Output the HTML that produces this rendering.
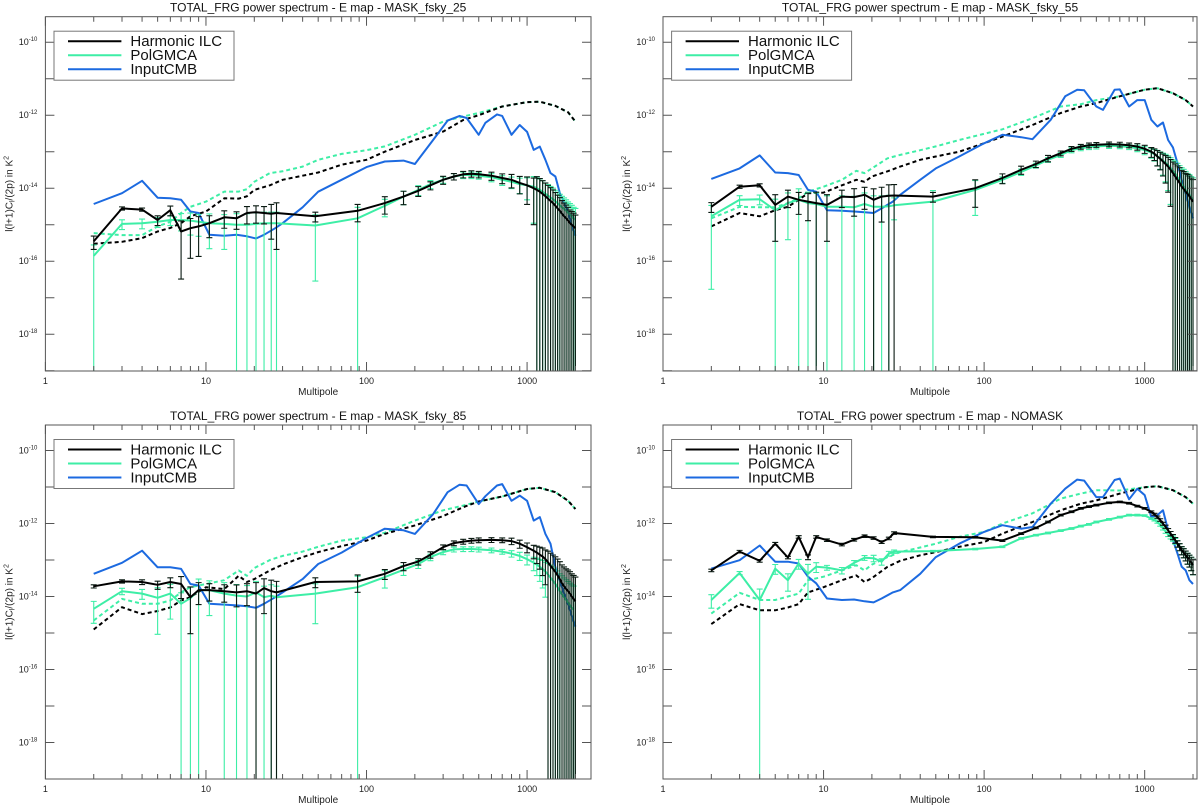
<!DOCTYPE html>
<html><head><meta charset="utf-8"><style>
html,body{margin:0;padding:0;background:#fff;}
svg{display:block;font-family:"Liberation Sans",sans-serif;}
</style></head><body>
<svg id="fig" width="1200" height="807" viewBox="0 0 1200 807" xmlns="http://www.w3.org/2000/svg"></svg>
<script>
const UNIT = 1e-15;
const binEll = [2,3,4,5,6,7,8,9,10.5,13,15.5,18,20.5,23,25.5,27.5,48,88,130,170,210,250,300,350,400,450,500,600,700,800,900,1000,1100,1150,1200,1250,1300,1350,1400,1450,1500,1550,1600,1650,1700,1750,1800,1850,1900,1950,2000];
const theoryEll = [2,3,4,5,6,7,8,10,13,16,18,20,25,30,40,50,70,100,130,200,300,400,500,700,1000,1200,1500,1800,2000];
const cmbEll = [2,3,4,5,6,7,8,9,10.5,13,15.5,18,20.5,23,27,30,40,50,70,100,130,170,200,260,320,380,420,500,550,650,700,800,900,1000,1100,1200,1300,1400,1500,1600,1700,1800,1900,2000];
const yTickExp = [-10,-12,-14,-16,-18];
const xTickVals = [1,10,100,1000];
const legendLabels = ["Harmonic  ILC","PolGMCA","InputCMB"];

// MASK_fsky_25
const tlHilc = [0.35,2.8,2.6,1.35,2.5,0.65,0.8,0.9,1.1,1.6,1.5,2.1,2.2,2.1,2.0,2.1,1.7,2.4,3.9,5.9,8.5,12,17,21,24,25,24,22,19,17,14,12,10,9,8,7,6,5.2,4.5,3.9,3.3,2.8,2.4,2.0,1.7,1.5,1.3,1.1,1.0,0.9,0.8];
const tlHilcErr = [0.4,0.1,0.1,0.3,0.3,0.95,0.85,0.85,0.6,0.5,0.5,0.5,0.5,0.5,0.8,0.9,0.3,0.5,0.5,0.4,0.3,0.25,0.25,0.2,0.2,0.2,0.2,0.25,0.3,0.4,0.5,0.7,0.9,1.3,1.3,1.3,1.3,1.3,1.3,1.3,1.3,1.3,1.3,1.3,1.3,1.3,1.3,1.3,1.3,1.3,1.3];
const tlGmca = [0.14,1.05,1.1,1.2,1.35,1.35,1.3,1.2,1.1,1.05,1.0,1.0,1.05,1.1,1.1,1.1,0.95,1.5,3.3,5.9,9,13,17,21,23,23,22,20,17,15,13,12,11,10,9,8,7,6.3,5.6,5,4.4,3.9,3.4,3,2.7,2.4,2.1,1.9,1.7,1.5,1.4];
const tlGmcaErr = [1.0,0.3,0.3,0.3,0.3,0.5,0.6,0.6,0.8,0.8,1.0,1.0,1.0,1.0,1.0,1.0,0.97,1.0,0.5,0.4,0.3,0.25,0.2,0.2,0.2,0.2,0.2,0.25,0.3,0.35,0.45,0.6,0.9,1,1,1,1,1,1,1,1,1,1,1,1,1,1,1,1,1,1];
const tlTheoryHilc = [0.30,0.34,0.43,0.65,0.82,1.1,1.7,2.3,5.3,5.2,6,9,12,17,22,27,44,60,100,210,355,740,1000,1730,2280,2350,1800,1200,670];
const tlTheoryGmca = [0.59,0.52,0.52,0.9,1.2,2.1,3.1,4.3,8.1,8.1,9.4,15,26,29,39,60,87,110,140,290,670,920,1150,1730,2280,2350,1800,1200,670];
const tlCmb = [3.7,7.3,16,5.5,5.3,4.8,2.3,2.1,0.53,0.5,0.53,0.48,0.42,0.53,0.8,1.1,3.0,8,17,38,54,57,46,210,710,960,840,290,620,1050,960,290,540,350,112,138,60,26,21,7.3,4,2.2,1.0,0.5];

// MASK_fsky_55
const trHilc = [3.1,11,12,3.5,5.9,4.8,4.3,3.9,3.5,5.9,5.7,6.6,4.8,5.9,6.2,6.3,5.9,10,19,32,46,66,91,120,138,150,155,160,158,150,138,120,100,88,74,64,54,46,39,32,26,21,17,14,11,9.5,8,7,6,5,4.3];
const trHilcErr = [0.3,0.1,0.1,0.9,0.5,0.6,0.7,1.0,0.9,0.5,0.7,0.6,1.0,0.8,1.0,1.0,0.3,0.7,0.3,0.25,0.2,0.2,0.15,0.15,0.15,0.15,0.15,0.15,0.15,0.15,0.2,0.25,0.3,0.35,0.45,0.5,0.6,0.7,0.8,0.9,1.0,1.2,1.4,1.6,1.8,2.0,2.2,2.4,2.6,2.8,3.0];
const trGmca = [1.7,4.8,5,2.5,3.9,4.8,3.9,3.7,3.1,3.1,3.0,3.7,3.1,3.1,3.2,3.4,4.3,9,17,28,42,60,82,110,125,135,140,145,142,135,125,110,95,85,75,66,57,50,43,36,30,25,20,16,13,11,9,7.5,6.5,5.5,4.8];
const trGmcaErr = [0.99,0.3,0.3,1.0,0.9,1.0,1.0,1.0,1.0,1.0,1.0,1.0,1.0,1.0,1.0,0.6,1.0,0.8,0.2,0.2,0.15,0.15,0.15,0.15,0.15,0.15,0.15,0.15,0.15,0.15,0.2,0.25,0.3,0.35,0.45,0.5,0.6,0.7,0.8,0.9,1.0,1.2,1.4,1.6,1.8,2.0,2.2,2.4,2.6,2.8,3.0];
const trTheoryHilc = [0.9,2.1,1.7,2.5,3.1,4.8,7.3,7.6,12,17,15,21,29,39,60,74,100,170,260,540,1150,1730,2150,3300,5000,5500,4000,2600,1730];
const trTheoryGmca = [1.5,3.1,3.0,3.0,3.9,5.3,8,11,17,30,26,35,66,82,110,140,210,310,410,830,1730,2000,2600,3300,5000,5500,4000,2600,1730];
const trCmb = [18,35,79,27,26,23,9,8,2.5,2.4,2.3,2.2,2.1,2.8,4.3,6.6,17,35,74,170,290,250,220,750,3300,5000,4800,1730,1400,5000,5100,1730,2600,2600,750,490,630,210,130,48,17,7.3,3,1.5];

// MASK_fsky_85
const blHilc = [19,26,25,21,25,22,9.6,15,15,14,13,14,12,17,14,13,25,26,42,68,91,140,225,290,320,340,350,355,350,330,280,225,180,160,140,125,105,87,70,57,47,38,30,23,19,16,14,12,10,8.6,7.4];
const blHilcErr = [0.1,0.1,0.15,0.25,0.3,0.6,0.9,0.6,0.5,0.5,0.6,0.6,1.0,0.8,1.0,1.0,0.3,0.5,0.3,0.25,0.2,0.2,0.15,0.15,0.15,0.15,0.15,0.15,0.15,0.2,0.25,0.3,0.4,0.5,0.6,0.7,0.8,1.0,1.2,1.4,1.6,1.8,2.0,2.2,2.4,2.6,2.8,3.0,3.2,3.4,3.6];
const blGmca = [4.6,14,12,9.2,12,6.3,9,15,15,12,10.6,10,13,9.6,10.5,9.6,12,18,34,54,78,120,165,195,200,200,195,185,170,150,130,105,85,75,65,57,48,40,33,27,22,18,14,11.5,9.5,8,6.8,5.8,5,4.4];
const blGmcaErr = [0.6,0.2,0.3,0.9,0.8,1.0,1.0,1.0,0.8,1.0,1.0,1.0,1.0,1.0,1.0,1.0,0.85,1.0,0.5,0.3,0.25,0.2,0.15,0.15,0.15,0.15,0.15,0.15,0.15,0.2,0.25,0.3,0.4,0.5,0.6,0.7,0.8,1.0,1.2,1.4,1.6,1.8,2.0,2.2,2.4,2.6,2.8,3.0,3.2,3.4,3.6];
const blTheoryHilc = [1.25,5.1,3.3,4,5,7.8,9.6,18,16,37,25,30,52,75,120,165,240,340,520,890,1600,2800,4000,5500,8800,9500,7200,4200,2500];
const blTheoryGmca = [2.2,8.6,6.3,6.3,7.8,13,18,22,28,52,37,60,100,130,170,230,340,420,560,1200,2300,3100,4000,5500,8800,9500,7200,4200,2500];
const blCmb = [42,84,180,63,63,57,22,20,6.3,6,5.7,5.4,4.9,6.3,9.6,13,30,78,160,400,720,650,520,1800,7200,11600,11000,3400,5600,11000,12000,4200,5800,4200,1200,1500,520,280,63,27,12,6,3,1.5];

// NOMASK
const brHilc = [52,170,95,280,117,430,120,430,350,265,360,450,400,310,390,550,430,420,340,530,760,1100,1700,2100,2600,2900,3200,3700,3900,3600,3000,2600,2100,1800,1500,1250,990,820,650,530,430,350,280,230,185,160,135,115,100,85,72];
const brHilcErr = [0.08,0.08,0.08,0.08,0.08,0.08,0.15,0.08,0.08,0.08,0.08,0.08,0.08,0.08,0.08,0.08,0.05,0.05,0.05,0.05,0.05,0.05,0.05,0.05,0.05,0.05,0.05,0.05,0.05,0.05,0.05,0.05,0.05,0.06,0.07,0.08,0.09,0.1,0.12,0.14,0.16,0.18,0.2,0.22,0.25,0.28,0.3,0.33,0.36,0.4,0.45];
const brGmca = [8,44,8,58,28,80,42,65,62,52,84,115,112,90,150,170,175,200,230,390,480,550,640,730,850,950,1100,1300,1500,1700,1700,1650,1370,1250,1100,920,730,600,500,440,390,330,280,230,185,160,135,115,100,85,72];
const brGmcaErr = [0.4,0.1,1.0,0.3,0.5,0.3,0.8,0.3,0.15,0.2,0.15,0.15,0.2,0.2,0.15,0.1,0.05,0.05,0.05,0.05,0.05,0.05,0.05,0.05,0.05,0.05,0.05,0.05,0.05,0.05,0.05,0.05,0.05,0.06,0.07,0.08,0.09,0.1,0.12,0.14,0.16,0.18,0.2,0.22,0.25,0.28,0.3,0.33,0.36,0.4,0.45];
const brTheoryHilc = [1.75,6.2,4.2,4.2,5,6.2,13,18,28,38,25,32,65,95,135,165,230,310,530,1100,2300,3500,4300,6600,9800,10500,8200,5300,3500];
const brTheoryGmca = [3.4,12.6,8,8,10,12,28,35,52,72,52,75,120,165,220,280,430,590,1000,1900,4800,6600,8200,8000,9800,10500,8200,5300,3500];
const brCmb = [58,99,250,90,90,80,35,23,8.8,8,8.3,7.4,6.9,8.8,13,15,42,120,280,590,900,720,800,3500,9000,16000,15000,5300,5300,15600,17000,4600,9000,6000,1500,1700,2300,650,350,150,65,52,28,22];

const panelTitles = ["TOTAL_FRG power spectrum - E map - MASK_fsky_25","TOTAL_FRG power spectrum - E map - MASK_fsky_55","TOTAL_FRG power spectrum - E map - MASK_fsky_85","TOTAL_FRG power spectrum - E map - NOMASK"];

const NS = "http://www.w3.org/2000/svg";
const svg = document.getElementById('fig');
const GREEN = "#3deea6", BLUE = "#1c6ae0";
function mk(tag, attrs, parent){ const e=document.createElementNS(NS,tag); for(const k in attrs) e.setAttribute(k,attrs[k]); (parent||svg).appendChild(e); return e; }

const panels = [
 {key:'tl', x0:45.4, x1:591, y0:16.7, y1:371, h:tlHilc, he:tlHilcErr, g:tlGmca, ge:tlGmcaErr, th:tlTheoryHilc, tg:tlTheoryGmca, c:tlCmb},
 {key:'tr', x0:663, x1:1197, y0:16.7, y1:371, h:trHilc, he:trHilcErr, g:trGmca, ge:trGmcaErr, th:trTheoryHilc, tg:trTheoryGmca, c:trCmb},
 {key:'bl', x0:45.4, x1:591, y0:425, y1:779, h:blHilc, he:blHilcErr, g:blGmca, ge:blGmcaErr, th:blTheoryHilc, tg:blTheoryGmca, c:blCmb},
 {key:'br', x0:663, x1:1197, y0:425, y1:779, h:brHilc, he:brHilcErr, g:brGmca, ge:brGmcaErr, th:brTheoryHilc, tg:brTheoryGmca, c:brCmb}
];
const XDEC = 160.56, YDEC = 36.5, YTOPLOG = Math.log10(5e-10);

panels.forEach((p, pi) => {
  const grp = mk('g', {});
  
  
  const xs = l => p.x0 + Math.log10(l) * XDEC;
  const ys = v => { const y = p.y0 + (YTOPLOG - Math.log10(v * UNIT)) * YDEC; return Math.min(y, p.y1 + 2); };
  const ysK = v => p.y0 + (YTOPLOG - Math.log10(v)) * YDEC;
  const cx = (p.x0 + p.x1) / 2;

  const title = mk('text', {x: cx, y: p.y0 - 5, 'text-anchor':'middle', 'font-size':12, fill:'#111'}, grp);
  title.textContent = panelTitles[pi];
  
  

  const clipId = 'clip' + pi;
  const cp = mk('clipPath', {id: clipId}, grp);
  mk('rect', {x:p.x0, y:p.y0, width:p.x1-p.x0, height:p.y1-p.y0}, cp);
  const plot = mk('g', {'clip-path':'url(#' + clipId + ')'}, grp);
  
  

  function line(ells, vals, color, dash, name){
    const d = ells.map((l,i)=>(i?'L':'M')+xs(l).toFixed(1)+','+ys(vals[i]).toFixed(1)).join('');
    const e = mk('path', {d:d, fill:'none', stroke:color, 'stroke-width':2, 'stroke-dasharray':dash||'none', 'stroke-linejoin':'round'}, plot);
    
    
  }
  function bars(ells, vals, errs, color, name){
    const g = mk('g', {stroke:color, 'stroke-width':1.1}, plot);
    
    
    ells.forEach((l,i)=>{
      const x = xs(l), v = vals[i], f = errs[i];
      const yHi = ys(v*(1+f));
      const yLo = f >= 1 ? p.y1 + 2 : ys(v*(1-f));
      const b = mk('path', {d:`M${x},${yLo}L${x},${yHi}M${x-3},${yHi}L${x+3},${yHi}` + (f<1?`M${x-3},${yLo}L${x+3},${yLo}`:'')}, g);
      
      
    });
  }
  line(theoryEll, p.tg, GREEN, '4,3', 'polgmca-theory-dashed');
  line(theoryEll, p.th, '#000', '4,3', 'hilc-theory-dashed');
  line(cmbEll, p.c, BLUE, null, 'inputcmb-line');
  bars(binEll, p.g, p.ge, GREEN, 'polgmca-error-bars');
  line(binEll, p.g, GREEN, null, 'polgmca-line');
  bars(binEll, p.h, p.he, '#0a1a12', 'hilc-error-bars');
  line(binEll, p.h, '#000', null, 'hilc-line');

  const frame = mk('rect', {x:p.x0, y:p.y0, width:p.x1-p.x0, height:p.y1-p.y0, fill:'none', stroke:'#555', 'stroke-width':1}, grp);
  
  

  for (let e=-19; e<=-10; e++){
    const y = ysK(Math.pow(10,e));
    mk('path', {d:`M${p.x0},${y}L${p.x0+9},${y}M${p.x1},${y}L${p.x1-9},${y}`, stroke:'#555', 'stroke-width':1}, grp);
  }
  yTickExp.forEach(e=>{
    const y = ysK(Math.pow(10,e));
    const t = mk('text', {x:p.x0-8, y:y+3, 'text-anchor':'end', 'font-size':9, fill:'#222'}, grp);
    
    
    t.appendChild(document.createTextNode('10'));
    const s = mk('tspan', {dy:-4, 'font-size':6}, t); s.textContent = String(e);
  });
  for (let d=0; d<4; d++){
    for (let m=1; m<10; m++){
      const l = m*Math.pow(10,d); const x = xs(l);
      if (x > p.x1) continue;
      const len = m===1 ? 9 : 5;
      mk('path', {d:`M${x},${p.y1}L${x},${p.y1-len}M${x},${p.y0}L${x},${p.y0+len}`, stroke:'#555', 'stroke-width':1}, grp);
    }
  }
  xTickVals.forEach(l=>{
    const t = mk('text', {x:xs(l), y:p.y1+13, 'text-anchor':'middle', 'font-size':9, fill:'#222'}, grp);
    t.textContent = String(l);
    
    
  });
  const xl = mk('text', {x:cx, y:p.y1+24, 'text-anchor':'middle', 'font-size':10, fill:'#222'}, grp);
  xl.textContent = 'Multipole';
  
  
  const yx = p.x0 - 33, yc = (p.y0+p.y1)/2;
  const yl = mk('text', {x:yx, y:yc, 'text-anchor':'middle', 'font-size':10, fill:'#222', transform:`rotate(-90 ${yx} ${yc})`}, grp);
  
  
  yl.appendChild(document.createTextNode('l(l+1)C'));
  const sb = mk('tspan', {dy:2, 'font-size':7}, yl); sb.textContent='l';
  const r = mk('tspan', {dy:-2}, yl); r.textContent='/(2p) in K';
  const sp = mk('tspan', {dy:-4, 'font-size':7}, yl); sp.textContent='2';

  const lg = mk('g', {}, grp);
  
  
  mk('rect', {x:p.x0+8.6, y:p.y0+14.5, width:180, height:49, fill:'#fff', stroke:'#777', 'stroke-width':1}, lg);
  const colors = ['#000', GREEN, BLUE];
  legendLabels.forEach((lab,i)=>{
    const y = p.y0 + 24.5 + i*14;
    const ent = mk('g', {}, lg);
    
    
    mk('line', {x1:p.x0+22.6, x2:p.x0+76, y1:y, y2:y, stroke:colors[i], 'stroke-width':2}, ent);
    const t = mk('text', {x:p.x0+85, y:y+5, 'font-size':15, fill:'#111', 'xml:space':'preserve'}, ent);
    t.textContent = lab;
  });
});
</script>
</body></html>
